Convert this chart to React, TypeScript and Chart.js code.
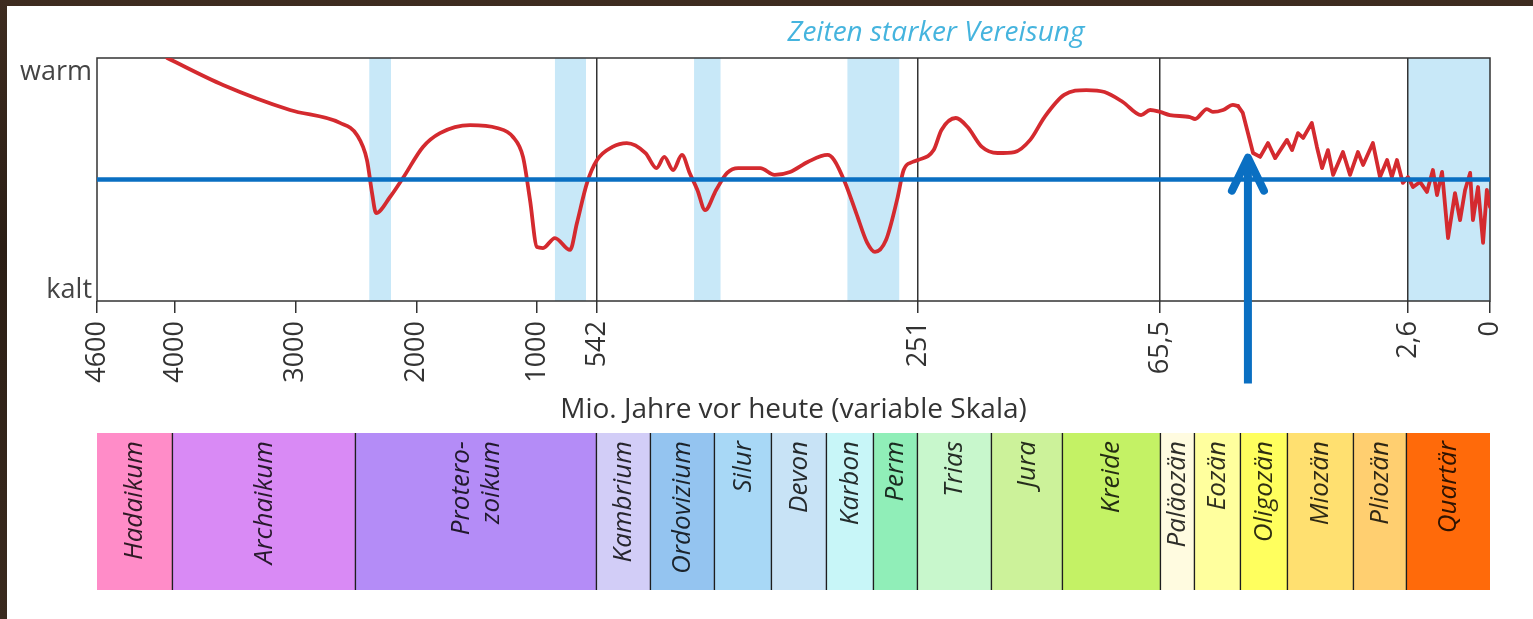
import React, { useEffect, useRef } from 'react';
import { Chart, registerables } from 'chart.js';

Chart.register(...registerables);

// ---- variable time axis (Mio. Jahre) ----
const scaleBreaks = [4600, 4000, 1000, 542, 251, 65.5, 2.6, 0];
const scaleWeights = [78, 362, 60, 321, 242, 248, 82];
const axisMax = scaleWeights.reduce((a, b) => a + b, 0);

const tickAges = [4600, 4000, 3000, 2000, 1000, 542, 251, 65.5, 2.6, 0];
const tickLabels = ['4600', '4000', '3000', '2000', '1000', '542', '251', '65,5', '2,6', '0'];
const boundaryAges = [542, 251, 65.5, 2.6];

const yTickValues = [94, 4.5];
const yTickLabels = ['warm', 'kalt'];

// ---- temperature curve (0 = kalt, 100 = warm) ----
const climateAges = [
  4060, 3602, 3047, 2633, 2492, 2409, 2367, 2334, 2218, 2111, 1945, 1804, 1555, 1332, 1199, 1116, 1058, 1000, 954, 863, 748, 695, 618, 542,
  528, 515, 498, 488, 481, 473, 465, 458, 451, 444, 434, 424, 414, 394, 381, 367, 351, 333, 327, 317, 307, 297, 290, 280, 270, 264, 256, 251,
  239, 233, 222, 213, 202, 190, 177, 165, 154, 139, 122, 108, 94, 80, 73,
  65.5, 63, 57.9, 56.6, 53.6, 52.1, 49.5, 47, 45.7, 44.5, 43.2, 41.9, 40.1, 38.1, 36.3, 33.3, 32, 30.5, 29.2, 27, 25.7, 24.4, 22.9, 21.6, 19.1, 17.3, 15.3, 14, 11.5, 9.7, 7.9, 6.7, 5.4, 3.9, 2.6,
  2.44, 2.22, 2.0, 1.81, 1.68, 1.52, 1.33, 1.11, 0.95, 0.79, 0.63, 0.54, 0.38, 0.22, 0.1, 0.0,
];
const climateValues = [
  100, 88.9, 78.6, 73.3, 68.3, 58.0, 44.4, 36.2, 42.8, 50.6, 63.4, 69.1, 72.4, 71.2, 67.5, 59.3, 41.6, 22.2, 21.8, 25.9, 21.0, 32.1, 48.6, 58.0,
  63.4, 65.0, 60.9, 54.7, 59.3, 53.9, 60.1, 52.7, 45.7, 37.4, 45.7, 52.7, 54.7, 54.7, 51.9, 53.1, 57.2, 60.1, 58.0, 48.6, 36.2, 23.9, 20.2, 25.1, 41.6, 53.9, 57.2, 58.0,
  62.1, 70.4, 75.3, 71.6, 63.4, 60.9, 61.3, 66.3, 75.7, 84.8, 86.8, 86.0, 81.9, 76.5, 78.6,
  77.8, 76.5, 75.7, 74.9, 79.0, 77.8, 78.6, 80.7, 80.2, 77.4, 69.1, 60.9, 59.3, 65.0, 58.8, 66.3, 62.1, 69.1, 67.1, 73.3, 63.4, 54.7, 62.1, 51.9, 61.3, 51.9, 61.3, 56.0, 65.0, 51.0, 58.0, 51.0, 58.0, 48.6, 51.0,
  46.9, 49.0, 44.9, 53.9, 43.6, 53.1, 25.9, 44.4, 33.3, 45.7, 52.7, 33.3, 46.9, 23.9, 45.7, 38.7,
];
// the curve is drawn smooth for older times and jagged (unsmoothed) for younger times
const jaggedFromAge = 45.7;

// reference level (blue horizontal line)
const referenceAges = [4600, 0];
const referenceValues = [50, 50];

// arrow marker
const arrowAge = 43.2;
const arrowTipValue = 59;
const arrowTailValue = -34;

// glaciation periods ("Zeiten starker Vereisung")
const glacialStart = [2390, 863, 454, 315, 2.6];
const glacialEnd = [2210, 626, 430, 268, 0];

// ---- geological time bar ----
const eraLabels = ['Hadaikum', 'Archaikum', 'Protero-\nzoikum', 'Kambrium', 'Ordovizium', 'Silur', 'Devon', 'Karbon', 'Perm', 'Trias', 'Jura', 'Kreide', 'Paläozän', 'Eozän', 'Oligozän', 'Miozän', 'Pliozän', 'Quartär'];
const eraSpans = [76, 183, 241, 54, 64, 57, 55, 47, 44, 74, 71, 98, 34, 46, 47, 66, 53, 83];
const eraColors = ['#ff8cc8', '#d98af5', '#b48cf7', '#d2cdf7', '#94c4f0', '#a8d8f6', '#c8e3f6', '#c8f6f8', '#90eeb8', '#c8f7cc', '#ccf29a', '#c4f265', '#fffbe0', '#ffff9e', '#ffff5e', '#ffe070', '#ffcf70', '#ff6a0a'];

function pos(age: number): number {
  let acc = 0;
  for (let i = 0; i < scaleWeights.length; i++) {
    const a0 = scaleBreaks[i];
    const a1 = scaleBreaks[i + 1];
    if (age >= a1 || i === scaleWeights.length - 1) {
      const t = (a0 - age) / (a0 - a1);
      return acc + t * scaleWeights[i];
    }
    acc += scaleWeights[i];
  }
  return acc;
}

const BLUE = '#0a6fc2';
const RED = '#d42a2f';

export default function App() {
  const topRef = useRef<HTMLCanvasElement>(null);
  const botRef = useRef<HTMLCanvasElement>(null);

  useEffect(() => {
    document.body.style.margin = '0';

    const decorPlugin = {
      id: 'decor',
      beforeDraw(chart: any) {
        const { ctx, chartArea: ca, scales } = chart;
        const x = scales.x;
        ctx.save();
        ctx.fillStyle = 'rgb(200,232,248)';
        glacialStart.forEach((s, i) => {
          const x0 = x.getPixelForValue(pos(s));
          const x1 = x.getPixelForValue(pos(glacialEnd[i]));
          ctx.fillRect(x0, ca.top, x1 - x0, ca.bottom - ca.top);
        });
        ctx.restore();
      },
      beforeDatasetsDraw(chart: any) {
        const { ctx, chartArea: ca } = chart;
        ctx.save();
        ctx.strokeStyle = '#333';
        ctx.lineWidth = 1.5;
        ctx.strokeRect(ca.left, ca.top, ca.right - ca.left, ca.bottom - ca.top);
        ctx.restore();
      },
      afterDraw(chart: any) {
        const { ctx, scales } = chart;
        const ax = scales.x.getPixelForValue(pos(arrowAge));
        const yTip = scales.y.getPixelForValue(arrowTipValue);
        const yTail = scales.y.getPixelForValue(arrowTailValue);
        ctx.save();
        ctx.strokeStyle = BLUE;
        ctx.lineWidth = 8;
        ctx.lineCap = 'butt';
        ctx.beginPath();
        ctx.moveTo(ax, yTail);
        ctx.lineTo(ax, yTip + 5);
        ctx.stroke();
        ctx.lineCap = 'round';
        ctx.lineJoin = 'round';
        ctx.beginPath();
        ctx.moveTo(ax - 16, yTip + 33);
        ctx.lineTo(ax, yTip);
        ctx.lineTo(ax + 16, yTip + 33);
        ctx.stroke();

        ctx.font = 'italic 28px "Open Sans"';
        ctx.fillStyle = '#45b4de';
        ctx.textAlign = 'center';
        ctx.textBaseline = 'middle';
        ctx.fillText('Zeiten starker Vereisung', 936, 33);
        ctx.restore();
      },
    };

    const smoothPts: { x: number; y: number }[] = [];
    const jaggedPts: { x: number; y: number }[] = [];
    climateAges.forEach((a, i) => {
      const p = { x: pos(a), y: climateValues[i] };
      if (a >= jaggedFromAge) smoothPts.push(p);
      if (a <= jaggedFromAge) jaggedPts.push(p);
    });

    const c1 = new Chart(topRef.current as HTMLCanvasElement, {
      type: 'line',
      data: {
        datasets: [
          {
            label: 'Referenz',
            data: referenceAges.map((a, i) => ({ x: pos(a), y: referenceValues[i] })),
            borderColor: BLUE,
            borderWidth: 4.5,
            pointRadius: 0,
            order: 0,
          },
          {
            label: 'Temperatur',
            data: smoothPts,
            borderColor: RED,
            borderWidth: 3.8,
            borderJoinStyle: 'round',
            borderCapStyle: 'round',
            pointRadius: 0,
            cubicInterpolationMode: 'monotone',
            order: 1,
          },
          {
            label: 'Temperatur (jung)',
            data: jaggedPts,
            borderColor: RED,
            borderWidth: 3.8,
            borderJoinStyle: 'round',
            borderCapStyle: 'round',
            pointRadius: 0,
            tension: 0,
            order: 1,
          },
        ],
      },
      options: {
        responsive: false,
        animation: false,
        layout: { padding: { top: 58, right: 43, left: 0, bottom: 0 } },
        plugins: { legend: { display: false }, tooltip: { enabled: false }, title: { display: false } },
        scales: {
          x: {
            type: 'linear',
            min: 0,
            max: axisMax,
            afterBuildTicks: (s: any) => {
              s.ticks = tickAges.map((a) => ({ value: pos(a) }));
            },
            afterFit: (s: any) => {
              s.height = 129;
            },
            ticks: {
              autoSkip: false,
              minRotation: 90,
              maxRotation: 90,
              padding: 8,
              color: '#333',
              font: { family: 'Open Sans', size: 27 },
              callback: (_v: any, i: number) => tickLabels[i],
            },
            grid: {
              color: (c: any) => (boundaryAges.includes(tickAges[c.index]) ? '#333' : 'rgba(0,0,0,0)'),
              lineWidth: 1.5,
              tickLength: 12,
              tickColor: '#333',
              tickWidth: 1.5,
            },
            border: { display: false },
            title: {
              display: true,
              text: 'Mio. Jahre vor heute (variable Skala)',
              color: '#333',
              font: { family: 'Open Sans', size: 28 },
              padding: { top: 0, bottom: 3 },
            },
          },
          y: {
            type: 'linear',
            min: 0,
            max: 100,
            afterBuildTicks: (s: any) => {
              s.ticks = yTickValues.map((v) => ({ value: v }));
            },
            afterFit: (s: any) => {
              s.width = 97;
            },
            ticks: {
              padding: 5,
              color: '#444',
              font: { family: 'Open Sans', size: 27 },
              callback: (_v: any, i: number) => yTickLabels[i],
            },
            grid: { display: false, drawTicks: false },
            border: { display: false },
          },
        },
      } as any,
      plugins: [decorPlugin],
    });

    const lastEra = eraSpans.length - 1;
    const eraLabelPlugin = {
      id: 'eraLabels',
      afterDatasetsDraw(chart: any) {
        const { ctx, chartArea: ca } = chart;
        ctx.save();
        ctx.font = 'italic 26px "Open Sans"';
        ctx.fillStyle = 'rgba(0,0,0,0.82)';
        ctx.textAlign = 'right';
        ctx.textBaseline = 'middle';
        chart.data.datasets.forEach((_ds: any, i: number) => {
          const el: any = chart.getDatasetMeta(i).data[0];
          const cx = (el.x + el.base) / 2;
          const lines = eraLabels[i].split('\n');
          lines.forEach((ln, j) => {
            ctx.save();
            ctx.translate(cx + (j - (lines.length - 1) / 2) * 30, ca.top + 8);
            ctx.rotate(-Math.PI / 2);
            ctx.fillText(ln, 0, 0);
            ctx.restore();
          });
        });
        ctx.restore();
      },
    };

    const c2 = new Chart(botRef.current as HTMLCanvasElement, {
      type: 'bar',
      data: {
        labels: ['Zeitalter'],
        datasets: eraLabels.map((n, i) => ({
          label: n,
          data: [eraSpans[i]],
          backgroundColor: eraColors[i],
          borderColor: '#1e1e1e',
          borderWidth: i < lastEra ? { top: 0, left: 0, bottom: 0, right: 1.6 } : 0,
          borderSkipped: false,
          barPercentage: 1,
          categoryPercentage: 1,
        })),
      },
      options: {
        indexAxis: 'y',
        responsive: false,
        animation: false,
        layout: { padding: { left: 97, right: 43, top: 3, bottom: 29 } },
        plugins: { legend: { display: false }, tooltip: { enabled: false } },
        scales: {
          x: { stacked: true, display: false, min: 0, max: eraSpans.reduce((a, b) => a + b, 0) },
          y: { stacked: true, display: false },
        },
      } as any,
      plugins: [eraLabelPlugin],
    });

    return () => {
      c1.destroy();
      c2.destroy();
    };
  }, []);

  return (
    <div
      style={{
        position: 'relative',
        width: 1533,
        height: 619,
        overflow: 'hidden',
        background: 'linear-gradient(180deg, #3e2c20 0%, #2b1e15 40%, #3a2a1e 100%)',
      }}
    >
      <div style={{ position: 'absolute', left: 7, top: 6, right: 0, bottom: 0, background: '#ffffff' }} />
      <canvas ref={topRef} width={1533} height={430} style={{ position: 'absolute', left: 0, top: 0 }} />
      <canvas ref={botRef} width={1533} height={189} style={{ position: 'absolute', left: 0, top: 430 }} />
    </div>
  );
}
